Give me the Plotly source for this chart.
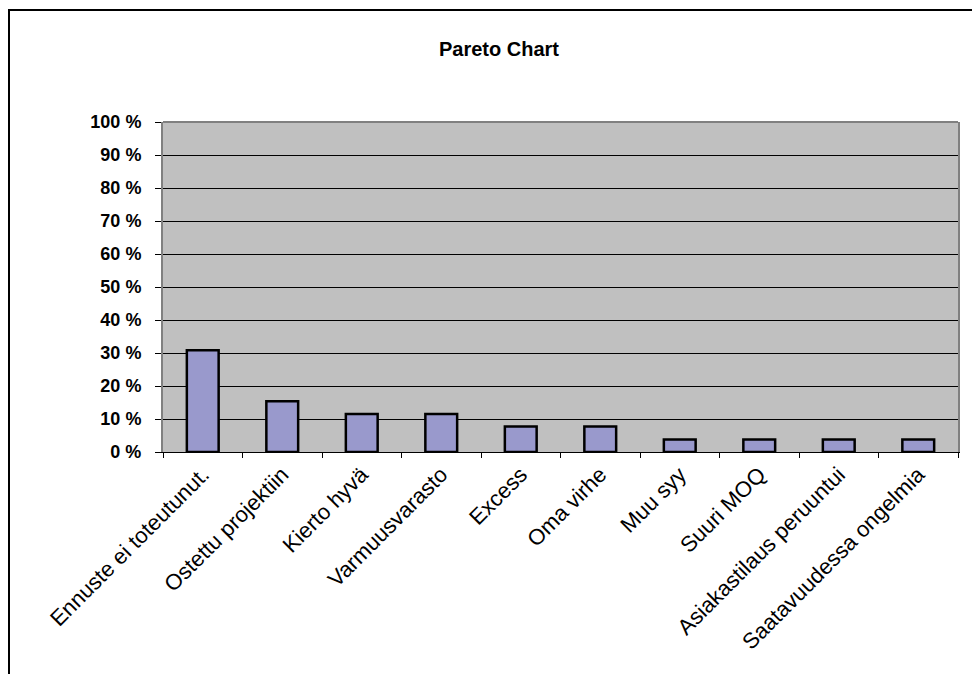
import plotly.graph_objects as go

categories = ["Ennuste ei toteutunut.", "Ostettu projektiin", "Kierto hyvä", "Varmuusvarasto",
              "Excess", "Oma virhe", "Muu syy", "Suuri MOQ", "Asiakastilaus peruuntui",
              "Saatavuudessa ongelmia"]
percent_values = [30.8, 15.4, 11.5, 11.5, 7.7, 7.7, 3.8, 3.8, 3.8, 3.8]
y_tick_values = [0, 10, 20, 30, 40, 50, 60, 70, 80, 90, 100]
y_tick_labels = ["0 %", "10 %", "20 %", "30 %", "40 %", "50 %", "60 %", "70 %", "80 %", "90 %", "100 %"]

W, H = 972, 674
L, R, T, B = 163, 14, 122, 222
pw, ph = W - L - R, H - T - B

fig = go.Figure(go.Bar(
    x=categories, y=percent_values,
    marker=dict(color="#9999CC", line=dict(color="black", width=2.5)),
    width=0.4,
))

def px_to_paper_x(px):
    return (px - L) / pw

def px_to_paper_y(py):
    return (H - B - py) / ph

fig.update_layout(
    width=W, height=H,
    margin=dict(l=L, r=R, t=T, b=B),
    paper_bgcolor="white",
    plot_bgcolor="#C0C0C0",
    showlegend=False,
    font=dict(family="Liberation Sans, Arial", color="black"),
    title=dict(text="<b>Pareto Chart</b>", font=dict(size=20, color="black"),
               x=499 / W, xanchor="center", xref="container",
               y=1 - 49 / H, yanchor="middle", yref="container"),
    xaxis=dict(
        type="category",
        showline=True, linecolor="black", linewidth=1,
        ticks="outside", ticklen=5, tickcolor="black", tickson="boundaries",
        tickangle=-45, tickfont=dict(size=22),
        showgrid=False,
    ),
    yaxis=dict(
        range=[0, 100],
        tickvals=y_tick_values, ticktext=y_tick_labels,
        showline=True, linecolor="#808080", linewidth=2, mirror=True,
        ticks="outside", ticklen=6, tickcolor="black",
        tickfont=dict(size=18, weight="bold"),
        ticklabelstandoff=10,
        showgrid=True, gridcolor="black", gridwidth=1,
        zeroline=False,
    ),
    shapes=[
        dict(type="line", xref="paper", yref="paper", x0=0, x1=1, y0=1, y1=1,
             line=dict(color="#808080", width=2)),
        dict(type="line", xref="paper", yref="paper",
             x0=px_to_paper_x(8), x1=px_to_paper_x(975),
             y0=px_to_paper_y(10), y1=px_to_paper_y(10),
             line=dict(color="black", width=2)),
        dict(type="line", xref="paper", yref="paper",
             x0=px_to_paper_x(9), x1=px_to_paper_x(9),
             y0=px_to_paper_y(10), y1=px_to_paper_y(680),
             line=dict(color="black", width=2)),
    ],
)

fig.write_html("out.html")
